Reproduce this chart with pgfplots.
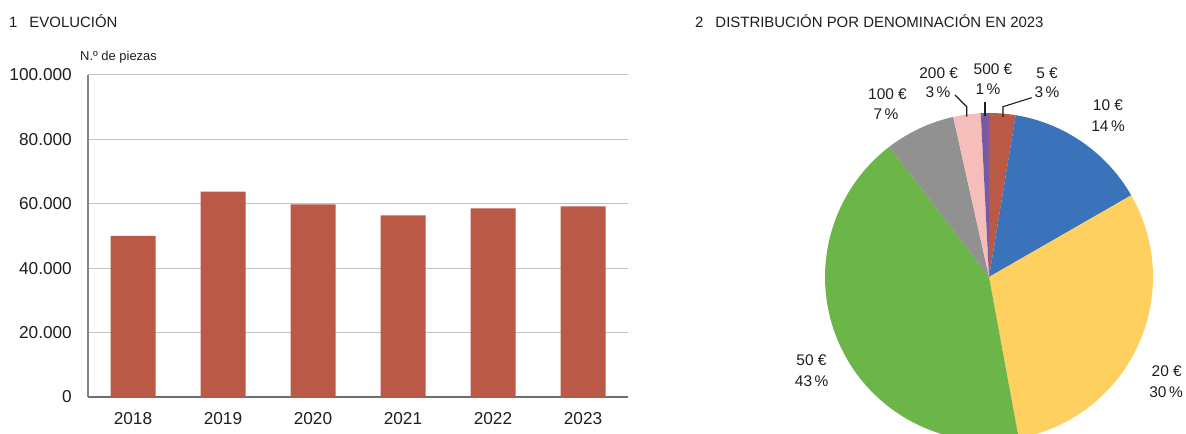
\documentclass[border=0pt]{standalone}
\usepackage{pgfplots}
\pgfplotsset{compat=1.18}
\usepackage{fontspec}
\setmainfont{Liberation Sans}
\definecolor{barred}{RGB}{186,90,70}
\definecolor{pblue}{RGB}{58,115,185}
\definecolor{pyellow}{RGB}{254,208,96}
\definecolor{pgreen}{RGB}{108,181,72}
\definecolor{pgray}{RGB}{145,145,145}
\definecolor{ppink}{RGB}{246,190,186}
\definecolor{ppurple}{RGB}{120,90,160}
\definecolor{gridgray}{RGB}{195,195,195}
\definecolor{axleft}{RGB}{130,130,130}
\definecolor{axbottom}{RGB}{110,110,110}
\definecolor{txt}{RGB}{30,30,30}
% pie slice: start share (%), share (%), colour
\newcommand\slice[3]{%
  \fill[#3] (axis cs:0,0) -- (axis cs:{cos(90-3.6*(#1))},{sin(90-3.6*(#1))})
    arc[start angle={90-3.6*(#1)}, end angle={90-3.6*((#1)+(#2))}, radius=164bp] -- cycle;}
\begin{document}
\begin{tikzpicture}[x=1bp,y=1bp]
\useasboundingbox (0,0) rectangle (1186,434);
\node[anchor=base west, inner sep=0, text=txt, font=\fontsize{15}{18}\selectfont] at (9,406.7) {1\hspace{12bp}EVOLUCIÓN};
\node[anchor=base west, inner sep=0, text=txt, font=\fontsize{15}{18}\selectfont] at (695,406.7) {2\hspace{12bp}DISTRIBUCIÓN POR DENOMINACIÓN EN 2023};
\node[anchor=base west, inner sep=0, text=txt, font=\fontsize{13}{16}\selectfont] at (80,373.3) {N.º de piezas};

\begin{axis}[
  at={(88bp,37bp)}, anchor=south west,
  scale only axis, width=540bp, height=322bp,
  xmin=-0.5, xmax=5.5, ymin=0, ymax=100000,
  axis x line*=bottom, axis y line*=left,
  x axis line style={draw=axbottom, line width=1.4pt},
  y axis line style={draw=axleft, line width=1.2pt},
  ytick={0,20000,40000,60000,80000,100000},
  yticklabels={0,20.000,40.000,60.000,80.000,100.000},
  scaled y ticks=false,
  ytick style={draw=none},
  ymajorgrids, grid style={draw=gridgray, line width=1pt},
  xtick={0,1,2,3,4,5},
  xticklabels={2018,2019,2020,2021,2022,2023},
  xtick style={draw=none},
  extra x ticks={-0.5,0.5,1.5,2.5,3.5,4.5,5.5},
  extra x tick labels={},
  extra x tick style={tick align=inside, major tick length=5bp, tick style={draw=axleft, line width=1pt}},
  tick label style={text=txt, font=\fontsize{17.3}{20}\selectfont},
  yticklabel style={anchor=east, inner sep=0pt, xshift=-16bp},
  xticklabel style={anchor=north, inner sep=0pt, yshift=-15bp},
  clip=false,
]
\addplot[ybar, bar width=0.5, fill=barred, draw=none] coordinates {
  (0,50000) (1,63750) (2,59800) (3,56400) (4,58600) (5,59200)};
\end{axis}

\begin{axis}[
  at={(989bp,157bp)}, anchor=center,
  scale only axis, width=328bp, height=328bp,
  xmin=-1, xmax=1, ymin=-1, ymax=1,
  hide axis, clip=false,
]
\slice{0}{2.6}{barred}
\slice{2.6}{14.1}{pblue}
\slice{16.7}{30.4}{pyellow}
\slice{47.1}{42.5}{pgreen}
\slice{89.6}{6.9}{pgray}
\slice{96.5}{2.7}{ppink}
\slice{99.2}{0.8}{ppurple}
\end{axis}

\begin{scope}[every node/.style={text=txt, font=\fontsize{15.5}{18}\selectfont, inner sep=0}]
\node at (1047,361.2) {5 €};   \node at (1047,342.3) {3\,\%};
\node at (993,364.8) {500 €};  \node at (988,344.8) {1\,\%};
\node at (938.7,360.7) {200 €};\node at (938,342.3) {3\,\%};
\node at (887.5,339.8) {100 €};\node at (886,319.8) {7\,\%};
\node at (1108,329) {10 €};    \node at (1108,308.2) {14\,\%};
\node at (1166.7,62.5) {20 €}; \node at (1166,42.3) {30\,\%};
\node at (811.5,74) {50 €};    \node at (811.7,52.8) {43\,\%};
\end{scope}
\draw[txt, line width=1.1pt] (1003,317) -- (1003,327.3) -- (1031.7,336.3);
\draw[txt, line width=1.1pt] (985,332.3) -- (985,318.3);
\draw[txt, line width=1.1pt] (955,339) -- (966.7,327.3) -- (966.7,317.3);
\end{tikzpicture}
\end{document}
